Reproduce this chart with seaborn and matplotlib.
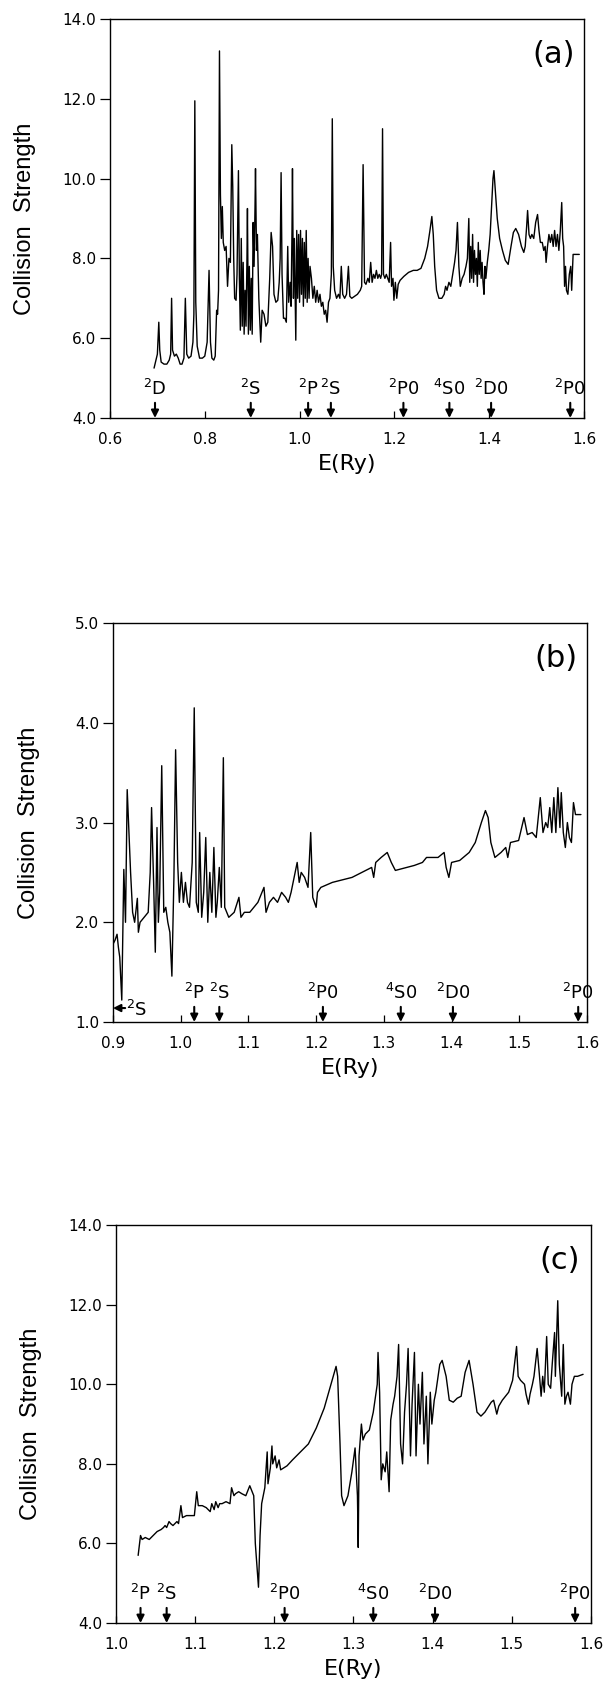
import seaborn as sns
import matplotlib.pyplot as plt
from matplotlib.ticker import FormatStrFormatter

# ---- panel (a) ----
energy_a = [
    0.693, 0.697, 0.700, 0.703, 0.705, 0.708, 0.714, 0.720, 0.725, 0.728,
    0.730, 0.732, 0.736, 0.740, 0.744, 0.748, 0.752, 0.756, 0.759, 0.762,
    0.766, 0.771, 0.775, 0.777, 0.779, 0.781, 0.784, 0.789, 0.795, 0.800,
    0.805, 0.809, 0.812, 0.815, 0.819, 0.822, 0.825, 0.827, 0.829, 0.831,
    0.833, 0.835, 0.837, 0.839, 0.842, 0.845, 0.848, 0.851, 0.854, 0.857,
    0.859, 0.861, 0.863, 0.866, 0.868, 0.871, 0.873, 0.875, 0.877, 0.879,
    0.881, 0.883, 0.885, 0.887, 0.889, 0.890, 0.892, 0.894, 0.896, 0.898,
    0.900, 0.902, 0.904, 0.906, 0.907, 0.909, 0.911, 0.914, 0.918, 0.921,
    0.925, 0.929, 0.933, 0.937, 0.940, 0.943, 0.946, 0.950, 0.954, 0.957,
    0.959, 0.961, 0.963, 0.966, 0.969, 0.972, 0.975, 0.977, 0.980, 0.982,
    0.984, 0.985, 0.987, 0.989, 0.992, 0.994, 0.996, 0.998, 1.000, 1.002,
    1.004, 1.006, 1.008, 1.010, 1.012, 1.014, 1.016, 1.018, 1.020, 1.022,
    1.025, 1.028, 1.031, 1.034, 1.037, 1.040, 1.043, 1.046, 1.049, 1.052,
    1.055, 1.058, 1.061, 1.064, 1.067, 1.069, 1.071, 1.074, 1.078, 1.082,
    1.085, 1.088, 1.091, 1.095, 1.099, 1.103, 1.106, 1.110, 1.116, 1.122,
    1.128, 1.131, 1.134, 1.137, 1.140, 1.144, 1.147, 1.150, 1.153, 1.156,
    1.159, 1.162, 1.165, 1.168, 1.171, 1.173, 1.175, 1.177, 1.180, 1.183,
    1.186, 1.189, 1.192, 1.194, 1.197, 1.199, 1.202, 1.205, 1.208, 1.212,
    1.220, 1.230, 1.240, 1.248, 1.256, 1.264, 1.270, 1.275, 1.279, 1.282,
    1.285, 1.289, 1.294, 1.300, 1.305, 1.308, 1.311, 1.315, 1.319, 1.323,
    1.327, 1.330, 1.333, 1.336, 1.339, 1.343, 1.347, 1.351, 1.354, 1.357,
    1.359, 1.361, 1.363, 1.365, 1.367, 1.369, 1.371, 1.373, 1.375, 1.377,
    1.379, 1.381, 1.383, 1.385, 1.387, 1.389, 1.391, 1.393, 1.396, 1.399,
    1.402, 1.405, 1.408, 1.410, 1.413, 1.417, 1.422, 1.428, 1.434, 1.440,
    1.446, 1.451, 1.456, 1.462, 1.468, 1.473, 1.476, 1.479, 1.481, 1.484,
    1.487, 1.490, 1.494, 1.498, 1.502, 1.505, 1.508, 1.512, 1.515, 1.518,
    1.520, 1.523, 1.526, 1.529, 1.532, 1.535, 1.538, 1.541, 1.544, 1.547,
    1.550, 1.553, 1.555, 1.557, 1.559, 1.561, 1.563, 1.566, 1.569, 1.572,
    1.574, 1.577, 1.583, 1.590,
]
omega_a = [
    5.25, 5.45, 5.6, 6.4, 5.7, 5.4, 5.35, 5.35, 5.45, 5.6,
    7.0, 5.7, 5.55, 5.6, 5.5, 5.35, 5.35, 5.5, 7.0, 5.6,
    5.5, 5.55, 5.9, 6.6, 11.95, 6.9, 5.8, 5.5, 5.5, 5.55,
    5.9, 7.7, 5.9, 5.5, 5.45, 5.55, 6.7, 6.6, 7.2, 13.2,
    9.6, 8.5, 9.3, 8.4, 8.2, 8.3, 7.3, 8.0, 7.9, 10.85,
    9.8, 8.0, 7.0, 6.95, 7.6, 10.2, 7.5, 6.2, 8.5, 6.3,
    7.9, 6.1, 7.2, 6.3, 8.0, 9.25, 6.1, 7.8, 6.2, 7.5,
    6.1, 8.9, 7.8, 9.3, 10.25, 8.2, 8.6, 7.0, 5.9, 6.7,
    6.6, 6.3, 6.4, 7.5, 8.65, 8.3, 7.1, 6.9, 6.95, 7.4,
    8.0, 10.15, 7.6, 6.5, 6.5, 6.4, 8.3, 6.9, 7.4, 6.8,
    8.7, 10.25, 7.0, 8.5, 5.95, 8.7, 7.0, 8.6, 6.9, 8.7,
    7.1, 8.5, 6.8, 8.4, 7.0, 8.7, 6.9, 8.0, 7.0, 7.8,
    7.5, 7.0, 7.3, 6.9, 7.2, 6.9, 7.1, 6.8, 6.9, 6.6,
    6.7, 6.4, 6.9, 7.0, 7.6, 11.5, 7.8, 7.2, 7.0, 7.1,
    7.0, 7.8, 7.1, 7.0, 7.1, 7.8, 7.05, 7.0, 7.05, 7.1,
    7.2, 7.3, 10.35, 7.4, 7.35, 7.5, 7.4, 7.9, 7.4, 7.6,
    7.5, 7.7, 7.5, 7.6, 7.5, 7.6, 11.25, 7.6, 7.5, 7.6,
    7.5, 7.4, 8.4, 7.3, 7.5, 6.95, 7.4, 7.0, 7.35, 7.45,
    7.55, 7.65, 7.7, 7.7, 7.75, 8.0, 8.3, 8.7, 9.05, 8.6,
    7.8, 7.2, 7.0, 7.0, 7.1, 7.3, 7.2, 7.4, 7.3, 7.6,
    7.9, 8.2, 8.9, 7.8, 7.3, 7.5, 7.6, 7.8, 8.0, 9.0,
    7.4, 8.3, 7.5, 8.6, 7.4, 8.2, 7.6, 8.0, 7.3, 8.4,
    7.6, 8.2, 7.5, 7.9, 7.4, 7.1, 7.8, 7.5, 7.9, 8.2,
    8.6, 9.3, 10.0, 10.2, 9.7, 9.0, 8.5, 8.2, 7.95, 7.85,
    8.3, 8.65, 8.75, 8.6, 8.3, 8.15, 8.3, 8.8, 9.2, 8.6,
    8.5, 8.6, 8.5, 8.9, 9.1, 8.7, 8.4, 8.4, 8.2, 8.3,
    7.9, 8.3, 8.6, 8.4, 8.6, 8.3, 8.7, 8.3, 8.6, 8.2,
    8.7, 9.4, 8.5, 8.3, 7.3, 7.8, 7.2, 7.1, 7.6, 7.8,
    7.2, 8.1, 8.1, 8.1,
]
thresholds_a = [0.695, 0.897, 1.018, 1.066, 1.219, 1.316, 1.404, 1.571]
labels_a = ["$^2$D", "$^2$S", "$^2$P", "$^2$S", "$^2$P0", "$^4$S0", "$^2$D0", "$^2$P0"]

# ---- panel (b) ----
energy_b = [
    0.900, 0.903, 0.906, 0.908, 0.910, 0.913, 0.916, 0.9185, 0.921, 0.923,
    0.926, 0.929, 0.932, 0.936, 0.9375, 0.940, 0.946, 0.952, 0.955, 0.957,
    0.960, 0.9625, 0.965, 0.967, 0.969, 0.972, 0.975, 0.978, 0.981, 0.984,
    0.987, 0.990, 0.9925, 0.9955, 0.998, 1.001, 1.004, 1.007, 1.010, 1.013,
    1.017, 1.020, 1.023, 1.026, 1.028, 1.031, 1.034, 1.037, 1.040, 1.043,
    1.046, 1.049, 1.052, 1.054, 1.057, 1.060, 1.063, 1.065, 1.071, 1.079,
    1.086, 1.089, 1.094, 1.102, 1.114, 1.123, 1.126, 1.131, 1.137, 1.143,
    1.149, 1.155, 1.159, 1.163, 1.172, 1.175, 1.178, 1.183, 1.188, 1.192,
    1.195, 1.200, 1.202, 1.207, 1.224, 1.253, 1.282, 1.285, 1.288, 1.296,
    1.305, 1.311, 1.317, 1.334, 1.345, 1.357, 1.363, 1.369, 1.380, 1.389,
    1.392, 1.396, 1.400, 1.412, 1.426, 1.435, 1.444, 1.450, 1.454, 1.458,
    1.464, 1.473, 1.480, 1.483, 1.487, 1.499, 1.507, 1.512, 1.519, 1.525,
    1.531, 1.535, 1.539, 1.542, 1.545, 1.548, 1.551, 1.554, 1.557, 1.560,
    1.562, 1.565, 1.568, 1.571, 1.574, 1.577, 1.580, 1.583, 1.591,
]
omega_b = [
    1.78, 1.82, 1.88, 1.75, 1.65, 1.22, 2.53, 2.0, 3.33, 3.0,
    2.5, 2.1, 2.0, 2.24, 1.9, 2.0, 2.05, 2.1, 2.5, 3.15,
    2.4, 1.7, 2.95, 2.0, 2.3, 3.57, 2.1, 2.15, 2.0, 1.9,
    1.46, 2.45, 3.73, 2.6, 2.2, 2.5, 2.2, 2.4, 2.2, 2.15,
    2.6, 4.15, 2.2, 2.1, 2.9, 2.05, 2.3, 2.85, 2.0, 2.5,
    2.1, 2.75, 2.05, 2.2, 2.55, 2.15, 3.65, 2.15, 2.05, 2.1,
    2.25, 2.05, 2.1, 2.1, 2.2, 2.35, 2.1, 2.2, 2.25, 2.2,
    2.3, 2.25, 2.2, 2.3, 2.6, 2.4, 2.5, 2.45, 2.35, 2.9,
    2.25, 2.15, 2.3, 2.35, 2.4, 2.45, 2.55, 2.45, 2.6, 2.65,
    2.7, 2.6, 2.52, 2.55, 2.57, 2.6, 2.65, 2.65, 2.65, 2.7,
    2.55, 2.45, 2.6, 2.62, 2.7, 2.8, 3.0, 3.12, 3.05, 2.8,
    2.65, 2.7, 2.75, 2.65, 2.8, 2.82, 3.05, 2.88, 2.9, 2.85,
    3.25, 2.9, 3.0, 2.95, 3.15, 2.9, 3.25, 2.9, 3.35, 2.95,
    3.3, 2.9, 2.75, 3.0, 2.85, 2.8, 3.2, 3.08, 3.08,
]
thresholds_b = [1.020, 1.057, 1.210, 1.325, 1.402, 1.587]
labels_b = ["$^2$P", "$^2$S", "$^2$P0", "$^4$S0", "$^2$D0", "$^2$P0"]

# ---- panel (c) ----
energy_c = [
    1.028, 1.031, 1.033, 1.037, 1.042, 1.047, 1.052, 1.057, 1.060, 1.062,
    1.064, 1.067, 1.069, 1.072, 1.077, 1.079, 1.082, 1.084, 1.089, 1.094,
    1.099, 1.102, 1.104, 1.109, 1.114, 1.119, 1.121, 1.124, 1.126, 1.129,
    1.131, 1.134, 1.139, 1.144, 1.146, 1.149, 1.151, 1.155, 1.159, 1.164,
    1.166, 1.169, 1.171, 1.174, 1.176, 1.1785, 1.180, 1.182, 1.184, 1.188,
    1.191, 1.192, 1.195, 1.197, 1.198, 1.201, 1.203, 1.206, 1.208, 1.216,
    1.223, 1.233, 1.243, 1.253, 1.263, 1.273, 1.278, 1.280, 1.283, 1.285,
    1.288, 1.293, 1.298, 1.302, 1.305, 1.306, 1.307, 1.310, 1.312, 1.315,
    1.320, 1.325, 1.330, 1.331, 1.333, 1.335, 1.337, 1.340, 1.342, 1.345,
    1.347, 1.350, 1.352, 1.355, 1.357, 1.3595, 1.362, 1.3645, 1.367, 1.369,
    1.372, 1.374, 1.377, 1.379, 1.382, 1.384, 1.387, 1.389, 1.392, 1.394,
    1.397, 1.399, 1.402, 1.404, 1.409, 1.412, 1.417, 1.421, 1.426, 1.431,
    1.436, 1.441, 1.446, 1.451, 1.456, 1.461, 1.466, 1.474, 1.477, 1.481,
    1.4835, 1.488, 1.496, 1.501, 1.506, 1.508, 1.511, 1.516, 1.518, 1.521,
    1.523, 1.526, 1.528, 1.532, 1.535, 1.537, 1.539, 1.541, 1.544, 1.546,
    1.549, 1.551, 1.554, 1.555, 1.558, 1.560, 1.563, 1.565, 1.567, 1.569,
    1.571, 1.574, 1.576, 1.579, 1.583, 1.590,
]
omega_c = [
    5.7, 6.2, 6.1, 6.15, 6.1, 6.2, 6.3, 6.35, 6.4, 6.45,
    6.4, 6.55, 6.5, 6.45, 6.55, 6.5, 6.95, 6.65, 6.7, 6.7,
    6.7, 7.3, 6.95, 6.95, 6.9, 6.8, 7.0, 6.85, 7.05, 6.9,
    7.0, 7.0, 7.05, 7.0, 7.4, 7.2, 7.25, 7.3, 7.25, 7.2,
    7.3, 7.45, 7.35, 7.2, 6.0, 5.3, 4.9, 6.2, 7.0, 7.4,
    8.3, 7.5, 7.9, 8.45, 8.0, 8.2, 7.9, 8.1, 7.85, 7.95,
    8.1, 8.3, 8.5, 8.9, 9.4, 10.1, 10.45, 10.2, 8.5, 7.2,
    6.95, 7.2, 7.8, 8.4, 7.2, 5.9, 8.2, 9.0, 8.6, 8.75,
    8.85, 9.3, 10.0, 10.8, 9.8, 7.6, 8.0, 7.8, 8.3, 7.3,
    9.1, 9.5, 9.7, 10.2, 11.0, 8.5, 8.0, 9.3, 10.0, 10.9,
    8.2, 9.5, 10.8, 8.2, 10.0, 9.0, 10.3, 8.5, 9.7, 8.0,
    9.8, 9.0, 9.6, 9.8, 10.5, 10.6, 10.2, 9.6, 9.55, 9.65,
    9.7, 10.3, 10.6, 10.0, 9.3, 9.2, 9.3, 9.55, 9.6, 9.25,
    9.45, 9.6, 9.8, 10.1, 10.95, 10.2, 10.1, 10.0, 9.75, 9.5,
    9.75, 10.0, 10.2, 10.9, 10.2, 9.7, 10.2, 9.8, 11.2, 10.0,
    9.9, 10.5, 11.3, 10.2, 12.1, 10.5, 9.7, 11.0, 9.5, 9.7,
    9.8, 9.5, 10.0, 10.2, 10.2, 10.25,
]
thresholds_c = [1.031, 1.064, 1.213, 1.325, 1.403, 1.580]
labels_c = ["$^2$P", "$^2$S", "$^2$P0", "$^4$S0", "$^2$D0", "$^2$P0"]

sns.set_theme(style="ticks")
plt.rcParams["font.family"] = ["DejaVu Sans"]
plt.rcParams["mathtext.default"] = "regular"

fig = plt.figure(figsize=(6.13, 16.84), dpi=100)
fig.patch.set_facecolor("white")

panels = [
    # rect, x, y, xlim, ylim, xticks, yticks, thresholds, labels, tag
    ([0.1794, 0.7518, 0.7733, 0.2369], energy_a, omega_a, (0.6, 1.6), (4.0, 14.0),
     [0.6, 0.8, 1.0, 1.2, 1.4, 1.6], [4, 6, 8, 10, 12, 14], thresholds_a, labels_a, "(a)"),
    ([0.1843, 0.3931, 0.7733, 0.2369], energy_b, omega_b, (0.9, 1.6), (1.0, 5.0),
     [0.9, 1.0, 1.1, 1.2, 1.3, 1.4, 1.5, 1.6], [1, 2, 3, 4, 5], thresholds_b, labels_b, "(b)"),
    ([0.1892, 0.0362, 0.7749, 0.2363], energy_c, omega_c, (1.0, 1.6), (4.0, 14.0),
     [1.0, 1.1, 1.2, 1.3, 1.4, 1.5, 1.6], [4, 6, 8, 10, 12, 14], thresholds_c, labels_c, "(c)"),
]

arrow_style = dict(arrowstyle="-|>", color="black", lw=1.5,
                   mutation_scale=11, shrinkA=0, shrinkB=0)

for rect, xs, ys, xlim, ylim, xticks, yticks, thr, labs, tag in panels:
    assert len(xs) == len(ys)
    ax = fig.add_axes(rect)
    sns.lineplot(x=xs, y=ys, ax=ax, color="black", linewidth=1.0,
                 estimator=None, sort=False)
    ax.set_xlim(*xlim)
    ax.set_ylim(*ylim)
    ax.set_xticks(xticks)
    ax.set_yticks(yticks)
    ax.xaxis.set_major_formatter(FormatStrFormatter("%.1f"))
    ax.yaxis.set_major_formatter(FormatStrFormatter("%.1f"))
    ax.tick_params(axis="x", direction="in", length=5, width=0.9, pad=10,
                   labelsize=11, colors="black")
    ax.tick_params(axis="y", direction="out", length=7, width=0.9, pad=3,
                   labelsize=11, colors="black")
    for sp in ax.spines.values():
        sp.set_color("black")
        sp.set_linewidth(1.0)
    ax.set_xlabel("E(Ry)", fontsize=16, labelpad=5, color="black")
    ax.set_ylabel("Collision  Strength", fontsize=17, color="black",
                  family="Liberation Sans")
    ax.yaxis.set_label_coords(-0.155, 0.5)
    ax.text(0.935, 0.91, tag, transform=ax.transAxes, fontsize=22,
            ha="center", va="center", color="black")

    for x0, lab in zip(thr, labs):
        ax.annotate("", xy=(x0, 0.0), xycoords=("data", "axes fraction"),
                    xytext=(x0, 0.038), textcoords=("data", "axes fraction"),
                    arrowprops=arrow_style)
        ax.text(x0, 0.048, lab, transform=ax.get_xaxis_transform(),
                fontsize=13, ha="center", va="bottom", color="black")

    if tag == "(b)":
        ax.annotate("", xy=(0.9, 1.14), xytext=(0.918, 1.14),
                    arrowprops=arrow_style)
        ax.text(0.919, 1.12, "$^2$S", fontsize=13, ha="left", va="center",
                color="black")

fig.savefig("out.png", dpi=100, facecolor="white")
